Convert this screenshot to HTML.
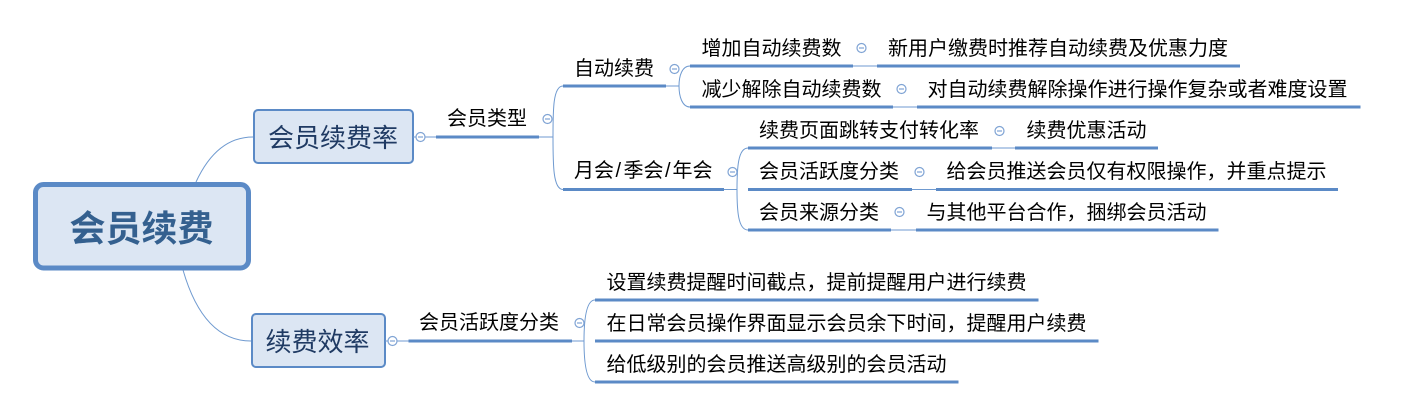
<!DOCTYPE html>
<html><head><meta charset="utf-8"><style>
html,body{margin:0;padding:0;background:#fff}
svg{display:block}
text{font-family:"Liberation Sans","Noto Sans CJK SC",sans-serif;font-size:20px;fill:#000}
.t{stroke:#5b8ac6;stroke-width:3;fill:none}
.n{stroke:#6f9ad0;stroke-width:1;fill:none}
.c{stroke:#7fa3d4;stroke-width:1.2;fill:#fff}
.m{stroke:#7fa3d4;stroke-width:1.2}
</style></head><body>
<svg width="1413" height="417" viewBox="0 0 1413 417" xmlns="http://www.w3.org/2000/svg">
<path class="n" d="M196 182C208 156 226 137 253 137"/>
<path class="n" d="M183 270C194 308 214 341 251 341"/>
<rect x="35.5" y="184.5" width="213" height="83.5" rx="8" fill="#dce6f3" stroke="#5b8ac6" stroke-width="5"/>
<text x="69.5" y="241" style="font-size:36px;font-weight:700;fill:#34608f">会员续费</text>
<rect x="254" y="110" width="159" height="53" rx="4" fill="#dce6f3" stroke="#5b8ac6" stroke-width="2"/>
<text x="268" y="147" style="font-size:26px;fill:#1f3a63">会员续费率</text>
<rect x="252" y="314" width="133" height="53" rx="4" fill="#dce6f3" stroke="#5b8ac6" stroke-width="2"/>
<text x="265.5" y="351" style="font-size:26px;fill:#1f3a63">续费效率</text>

<path class="n" d="M413 137H436M385 341H409"/>
<path class="t" d="M436 137H539"/><path class="n" d="M539 137H553"/>
<path class="n" d="M553 137C553 110 553 86 563 86M553 137C553 164 553 189.5 563 189.5"/>
<path class="t" d="M563 86H666M563 189.5H724"/>
<path class="n" d="M666 86H679M724 189.5H737M853 66H877M893 107H917M992 148H1015M912 189.5H936M891 230H916"/>
<path class="n" d="M679 86C679 76 682 66 690 66M679 86C679 96 682 107 690 107"/>
<path class="n" d="M737 189.5C737 168 738 148 748 148M737 189.5C737 210 738 230 748 230"/>
<path class="t" d="M690 66H853M877 66H1240M690 107H893M917 107H1360.5M748 148H992M1015 148H1158M748 189.5H912M936 189.5H1338M748 230H891M916 230H1218.5"/>

<path class="t" d="M408.5 341H572"/><path class="n" d="M572 341H584"/>
<path class="n" d="M584 341C584 320 586 300 595 300M584 341C584 362 586 382 595 382"/>
<path class="t" d="M595 300H1038.5M595 341H1098.5M595 382H958.5"/>

<g>
<circle class="c" cx="420.5" cy="137" r="4.5"/><path class="m" d="M418 137H423"/>
<circle class="c" cx="392.5" cy="341" r="4.5"/><path class="m" d="M390 341H395"/>
<circle class="c" cx="547.5" cy="119" r="4.5"/><path class="m" d="M545 119H550"/>
<circle class="c" cx="674.5" cy="69" r="4.5"/><path class="m" d="M672 69H677"/>
<circle class="c" cx="732.5" cy="172" r="4.5"/><path class="m" d="M730 172H735"/>
<circle class="c" cx="861.5" cy="48" r="4.5"/><path class="m" d="M859 48H864"/>
<circle class="c" cx="901.5" cy="89" r="4.5"/><path class="m" d="M899 89H904"/>
<circle class="c" cx="999.5" cy="131" r="4.5"/><path class="m" d="M997 131H1002"/>
<circle class="c" cx="919.5" cy="172" r="4.5"/><path class="m" d="M917 172H922"/>
<circle class="c" cx="899.5" cy="212" r="4.5"/><path class="m" d="M897 212H902"/>
<circle class="c" cx="579.5" cy="323" r="4.5"/><path class="m" d="M577 323H582"/>
</g>

<text x="447" y="125">会员类型</text>
<text x="574" y="75">自动续费</text>
<text y="177"><tspan x="574">月会</tspan><tspan x="615.5">/</tspan><tspan x="623.5">季会</tspan><tspan x="665">/</tspan><tspan x="672.5">年会</tspan></text>
<text x="701.5" y="55">增加自动续费数</text>
<text x="701.5" y="96">减少解除自动续费数</text>
<text x="759" y="137">续费页面跳转支付转化率</text>
<text x="759" y="178">会员活跃度分类</text>
<text x="759" y="219">会员来源分类</text>
<text x="888" y="55">新用户缴费时推荐自动续费及优惠力度</text>
<text x="927.5" y="96">对自动续费解除操作进行操作复杂或者难度设置</text>
<text x="1026.5" y="137">续费优惠活动</text>
<text x="946.5" y="178">给会员推送会员仅有权限操作，并重点提示</text>
<text x="926.5" y="219">与其他平台合作，捆绑会员活动</text>
<text x="419" y="329">会员活跃度分类</text>
<text x="606.5" y="289">设置续费提醒时间截点，提前提醒用户进行续费</text>
<text x="606.5" y="330">在日常会员操作界面显示会员余下时间，提醒用户续费</text>
<text x="606.5" y="371">给低级别的会员推送高级别的会员活动</text>
</svg>
</body></html>
